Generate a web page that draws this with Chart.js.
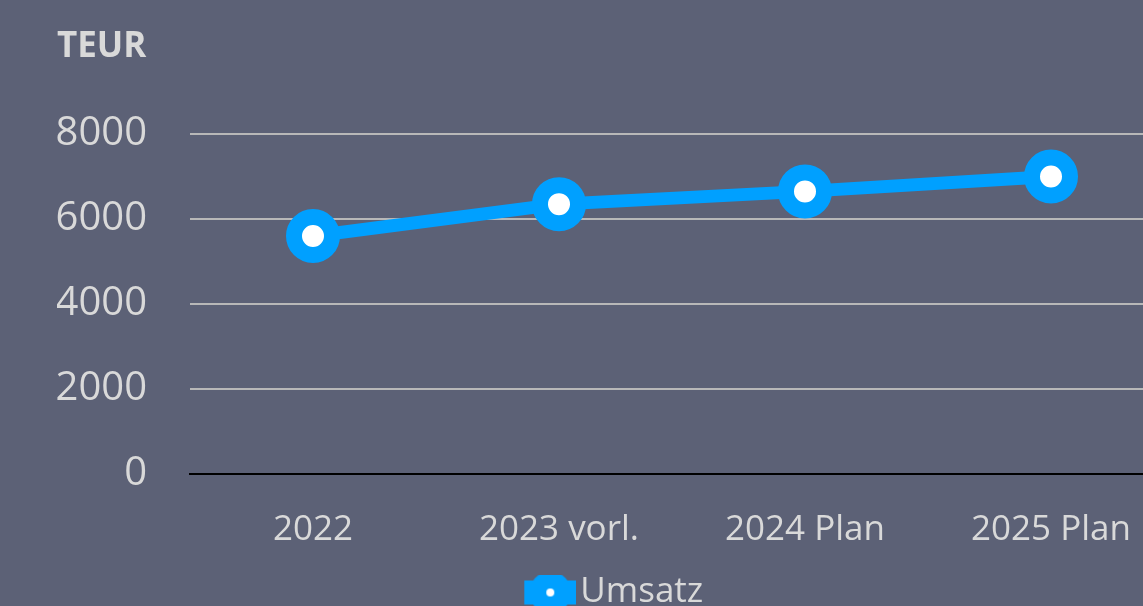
<!DOCTYPE html>
<html>
<head>
    <script src="https://cdn.jsdelivr.net/npm/chart.js"></script>
    <style>
        html, body { margin: 0; padding: 0; background: #5c6176; overflow: hidden; }
        #wrap { width: 1228px; height: 620px; }
    </style>
</head>
<body>
    <div id="wrap">
        <canvas id="umsatzChart" width="1228" height="620"></canvas>
    </div>

    <script>
        // Values (TEUR)
        const categories = ['2022', '2023 vorl.', '2024 Plan', '2025 Plan'];
        const umsatz = [5600, 6350, 6650, 7000];
        const yTicks = [0, 2000, 4000, 6000, 8000];

        const blue = '#00a0ff';
        const textColor = '#d9d9d9';

        // legend marker: thick line with a ring marker on it
        function legendIcon() {
            const c = document.createElement('canvas');
            c.width = 62;
            c.height = 44;
            const g = c.getContext('2d');
            g.fillStyle = blue;
            g.fillRect(10, 10, 52, 24);
            g.beginPath();
            g.arc(36, 22, 21, 0, Math.PI * 2);
            g.fill();
            g.fillStyle = '#ffffff';
            g.beginPath();
            g.arc(36, 22, 4, 0, Math.PI * 2);
            g.fill();
            return c;
        }
        const icon = legendIcon();

        new Chart(document.getElementById('umsatzChart'), {
            type: 'line',
            data: {
                labels: categories,
                datasets: [{
                    label: 'Umsatz',
                    data: umsatz,
                    borderColor: blue,
                    borderWidth: 13,
                    pointRadius: 19,
                    pointBorderWidth: 16,
                    pointBackgroundColor: '#ffffff',
                    pointBorderColor: blue,
                    pointHoverRadius: 19,
                    tension: 0,
                    clip: false
                }]
            },
            options: {
                responsive: false,
                animation: false,
                layout: {
                    padding: { left: 57, right: 54, top: 0, bottom: 0 }
                },
                scales: {
                    x: {
                        offset: true,
                        afterFit: function(scale) { scale.height -= 12; },
                        grid: { display: false, drawTicks: false },
                        border: { display: true, color: '#000000', width: 2 },
                        ticks: {
                            color: textColor,
                            padding: 39,
                            font: { family: 'Open Sans', size: 35, lineHeight: 1 }
                        }
                    },
                    y: {
                        min: 0,
                        max: 8000,
                        afterFit: function(scale) { scale.width = 133; },
                        afterBuildTicks: function(scale) {
                            scale.ticks = yTicks.map(v => ({ value: v }));
                        },
                        border: { display: false },
                        grid: {
                            drawTicks: false,
                            lineWidth: 2,
                            color: function(ctx) {
                                return ctx.tick && ctx.tick.value === 0 ? '#000000' : '#b8b8b8';
                            }
                        },
                        ticks: {
                            color: textColor,
                            padding: 43,
                            font: { family: 'Open Sans', size: 40 },
                            callback: function(value) { return String(value); }
                        }
                    }
                },
                plugins: {
                    title: {
                        display: true,
                        text: 'TEUR',
                        align: 'start',
                        color: textColor,
                        font: { family: 'Open Sans', size: 35, weight: 'bold' },
                        padding: { top: 26, bottom: 66 }
                    },
                    legend: {
                        position: 'bottom',
                        labels: {
                            color: textColor,
                            font: { family: 'Open Sans', size: 35 },
                            usePointStyle: true,
                            boxWidth: 35,
                            padding: 0,
                            generateLabels: function(chart) {
                                return [{
                                    text: 'Umsatz',
                                    pointStyle: icon,
                                    fillStyle: blue,
                                    strokeStyle: blue,
                                    lineWidth: 0,
                                    fontColor: textColor,
                                    datasetIndex: 0,
                                    hidden: false
                                }];
                            }
                        }
                    },
                    tooltip: { enabled: false }
                }
            }
        });
    </script>
</body>
</html>
